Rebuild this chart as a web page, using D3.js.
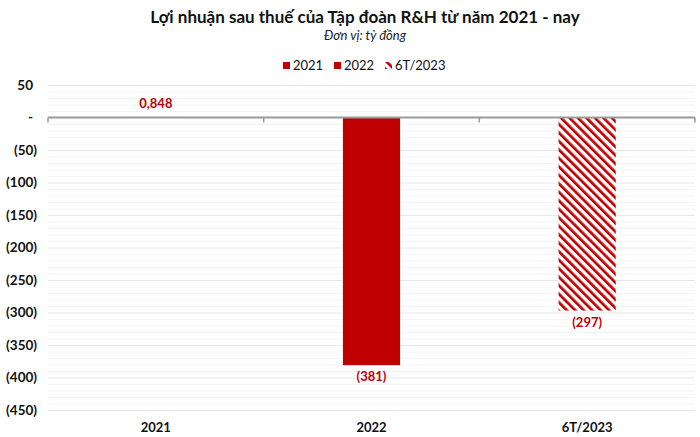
<!DOCTYPE html>
<html>
<head>
<meta charset="utf-8">
<script src="https://cdn.jsdelivr.net/npm/d3@7"></script>
<style>
  body { margin: 0; background: #fff; }
  text { font-family: Lato, "Open Sans", sans-serif; }
</style>
</head>
<body>
<svg id="chart" width="700" height="437"></svg>
<script>
var categories = ["2021", "2022", "6T/2023"];
var values = [0.848, -381, -297];
var valueLabels = ["0,848", "(381)", "(297)"];
var legendLabels = ["2021", "2022", "6T/2023"];
var yTicks = [50, 0, -50, -100, -150, -200, -250, -300, -350, -400, -450];
var minorStep = 10;

var red = "#c00000";
var svg = d3.select("#chart");

// hatch for the half-year bar
var defs = svg.append("defs");
var pat = defs.append("pattern")
  .attr("id", "hatch")
  .attr("patternUnits", "userSpaceOnUse")
  .attr("width", 6)
  .attr("height", 6)
  .attr("patternTransform", "rotate(-45)");
pat.append("rect").attr("width", 6).attr("height", 6).attr("fill", "#fff");
pat.append("rect").attr("width", 2.7).attr("height", 6).attr("fill", red);

var x = d3.scaleBand()
  .domain(categories)
  .range([48, 695])
  .paddingInner(0.735)
  .paddingOuter(0.3675);

var y = d3.scaleLinear()
  .domain([50, -450])
  .range([85, 410]);

// title
svg.append("text")
  .attr("x", 365).attr("y", 23)
  .attr("text-anchor", "middle")
  .style("font-size", "17px").style("font-weight", "bold").style("fill", "#111")
  .text("Lợi nhuận sau thuế của Tập đoàn R&H từ năm 2021 - nay");
svg.append("text")
  .attr("x", 365).attr("y", 40)
  .attr("text-anchor", "middle")
  .style("font-size", "13px").style("font-style", "italic").style("fill", "#222")
  .text("Đơn vị: tỷ đồng");

// minor grid
var minor = d3.range(-450, 50 + 1, minorStep).filter(function(v){ return v % 50 !== 0; });
svg.append("g").selectAll("line")
  .data(minor)
  .enter().append("line")
  .attr("x1", 48).attr("x2", 695)
  .attr("y1", function(d){ return y(d) + 0.5; })
  .attr("y2", function(d){ return y(d) + 0.5; })
  .attr("stroke", "#f4f4f4");

// major grid
svg.append("g").selectAll("line")
  .data(yTicks.filter(function(v){ return v !== 0; }))
  .enter().append("line")
  .attr("x1", 48).attr("x2", 695)
  .attr("y1", function(d){ return y(d) + 0.5; })
  .attr("y2", function(d){ return y(d) + 0.5; })
  .attr("stroke", "#e8e8e8");

// y axis labels
var fmt = function(v){
  if (v === 0) return "-";
  if (v < 0) return "(" + Math.abs(v) + ")";
  return String(v);
};
var yAxis = d3.axisLeft(y)
  .tickValues(yTicks)
  .tickFormat(fmt)
  .tickSize(0)
  .tickPadding(0);
var gy = svg.append("g")
  .attr("transform", "translate(37,0)")
  .call(yAxis);
gy.select(".domain").remove();
gy.selectAll("text")
  .attr("dx", function(d){ return d < 0 ? 0 : -4; })
  .style("font-family", "Lato, 'Open Sans', sans-serif")
  .style("font-size", "13.5px").style("font-weight", "bold").style("fill", "#111");

// bars
svg.append("g").selectAll("rect")
  .data(values)
  .enter().append("rect")
  .attr("x", function(d, i){ return x(categories[i]); })
  .attr("width", x.bandwidth())
  .attr("y", function(d){ return y(Math.max(0, d)); })
  .attr("height", function(d){ return Math.abs(y(d) - y(0)); })
  .attr("fill", function(d, i){ return i === 2 ? "url(#hatch)" : red; });

// zero baseline and ticks
svg.append("line")
  .attr("x1", 48).attr("x2", 695)
  .attr("y1", y(0)).attr("y2", y(0))
  .attr("stroke", "#9a9a9a").attr("stroke-width", 2);
var edges = categories.map(function(c){ return x(c) - x.step() * x.paddingInner() / 2; });
edges.push(695);
svg.append("g").selectAll("line")
  .data(edges)
  .enter().append("line")
  .attr("x1", function(d){ return d; }).attr("x2", function(d){ return d; })
  .attr("y1", y(0)).attr("y2", y(0) + 5)
  .attr("stroke", "#9a9a9a").attr("stroke-width", 1.5);

// value labels
svg.append("g").selectAll("text")
  .data(values)
  .enter().append("text")
  .attr("x", function(d, i){ return x(categories[i]) + x.bandwidth() / 2; })
  .attr("y", function(d){ return d >= 0 ? y(d) - 9 : y(d) + 16; })
  .attr("text-anchor", "middle")
  .style("font-size", "13px").style("font-weight", "bold").style("fill", red)
  .text(function(d, i){ return valueLabels[i]; });

// category labels
svg.append("g").selectAll("text")
  .data(categories)
  .enter().append("text")
  .attr("x", function(d){ return x(d) + x.bandwidth() / 2; })
  .attr("y", 432)
  .attr("text-anchor", "middle")
  .style("font-size", "13px").style("font-weight", "bold").style("fill", "#111")
  .text(function(d){ return d; });

// legend
var legendX = [283, 334, 385];
var lg = svg.append("g").selectAll("g")
  .data(legendLabels)
  .enter().append("g")
  .attr("transform", function(d, i){ return "translate(" + legendX[i] + ",62)"; });
lg.append("rect")
  .attr("width", 7).attr("height", 7)
  .attr("fill", function(d, i){ return i === 2 ? "url(#hatch)" : red; });
lg.append("text")
  .attr("x", 10).attr("y", 8)
  .style("font-size", "13px").style("fill", "#111")
  .text(function(d){ return d; });
</script>
</body>
</html>
